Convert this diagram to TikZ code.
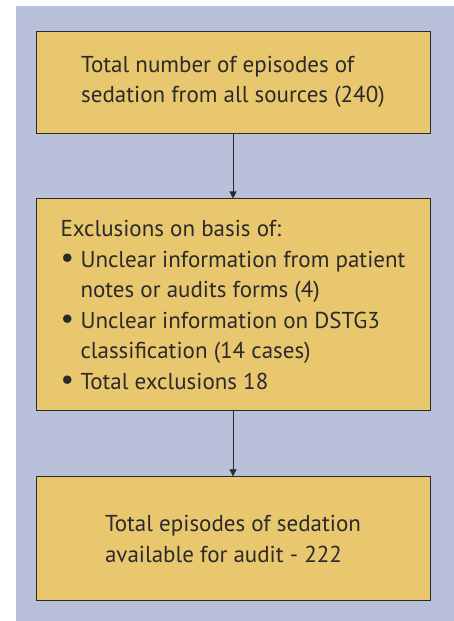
\documentclass[tikz,border=0pt]{standalone}
\usepackage{fontspec}
\setmainfont{PT Sans}
\usetikzlibrary{arrows.meta, positioning, backgrounds}
\definecolor{panelBlue}{HTML}{B8C0DA}
\definecolor{boxYellow}{HTML}{E8C76F}
\definecolor{lineDark}{HTML}{2A2A2A}
\newcommand{\bulletline}[1]{\makebox[20pt][l]{\scalebox{1.3}{\textbullet}}#1}
\newcommand{\hangline}[1]{\hspace*{20pt}#1}

\begin{document}
\begin{tikzpicture}[
    x=1pt, y=1pt,
    node distance=65pt,
    flowbox/.style={rectangle, draw=lineDark, line width=0.9pt, fill=boxYellow,
                    minimum width=394pt, minimum height=#1, align=left,
                    font=\fontsize{23}{30.5}\selectfont, text=lineDark},
    arr/.style={-{Triangle[length=7pt, width=7pt]}, line width=0.7pt, lineDark}
  ]
    \useasboundingbox (0,0) rectangle (454,-621);
    \fill[panelBlue] (16,-6) rectangle (454,-621);

    \node[flowbox=102pt] (total) at (233,-82)
      {Total number of episodes of\\sedation from all sources (240)};
    \node[flowbox=212pt, below=of total] (excl)
      {Exclusions on basis of:\\
       \bulletline{Unclear information from patient}\\
       \hangline{notes or audits forms (4)}\\
       \bulletline{Unclear information on DSTG3}\\
       \hangline{classification (14 cases)}\\
       \bulletline{Total exclusions 18}};
    \node[flowbox=124pt, below=of excl] (avail)
      {Total episodes of sedation\\available for audit - 222};

    \draw[arr] (total) -- (excl);
    \draw[arr] (excl) -- (avail);
  \end{tikzpicture}
\end{document}
